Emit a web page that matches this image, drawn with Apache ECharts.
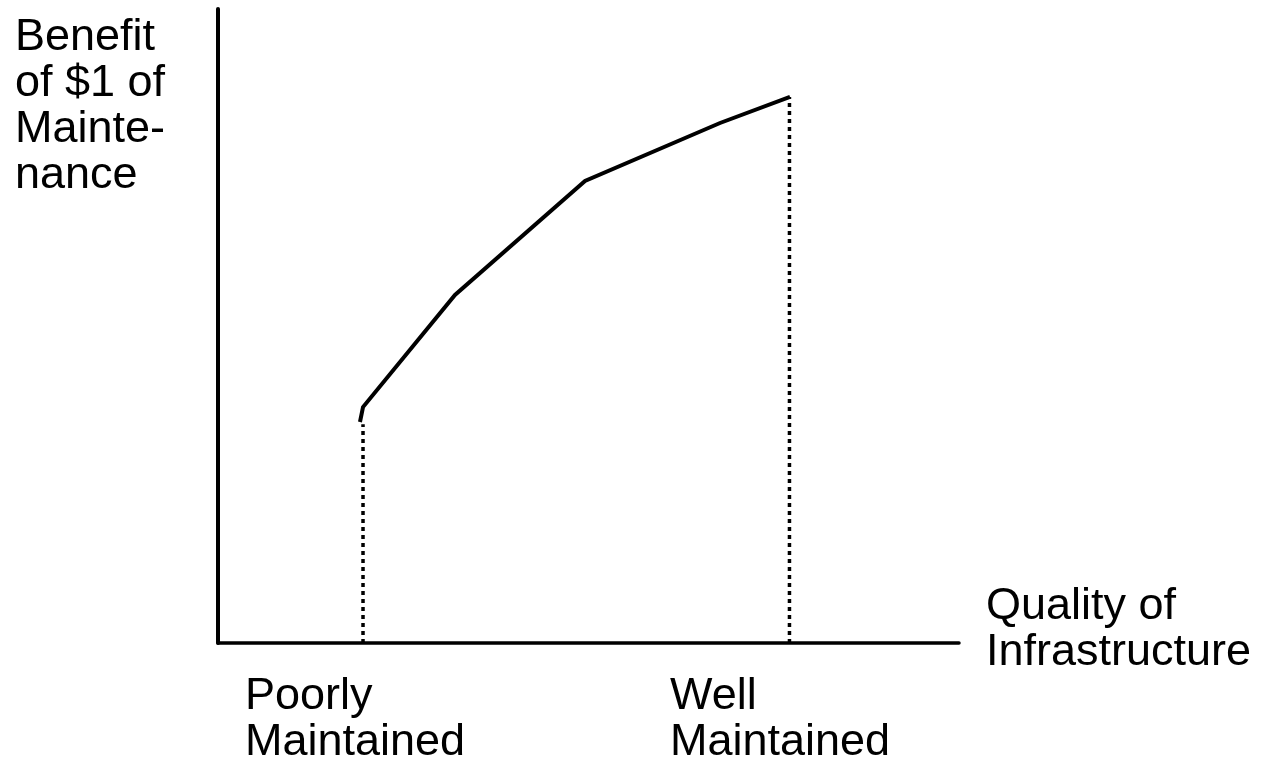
<!DOCTYPE html>
<html>
<head>
<meta charset="utf-8">
<title>Benefit of Maintenance</title>
<script src="https://cdn.jsdelivr.net/npm/echarts@6/dist/echarts.min.js"></script>
<style>
  html, body { margin: 0; padding: 0; background: #fff; }
  #chart { width: 1282px; height: 758px; }
</style>
</head>
<body>
<div id="chart"></div>
<script>
// quality of infrastructure (0 = poor .. 100 = best), benefit of $1 (0..100)
const curveX = [19.16, 19.57, 31.98, 49.53, 67.75, 77.19];
const curveY = [34.86, 37.22, 54.89, 72.87, 82.02, 86.12];

// dotted guide lines down to the x axis
const guideX = [19.57, 77.12];
const guideTop = [34.5, 86.12];

const yTitle = 'Benefit\nof $1 of\nMainte-\nnance';
const xTitle = 'Quality of\nInfrastructure';
const poorLabel = 'Poorly\nMaintained';
const wellLabel = 'Well\nMaintained';

const FONT = '"Liberation Sans", Arial, sans-serif';
const textStyle = (text, x, y) => ({
  type: 'text',
  left: x,
  top: y,
  style: {
    text: text,
    fill: '#000',
    font: '45px ' + FONT,
    lineHeight: 46
  }
});

const chart = echarts.init(document.getElementById('chart'));

const option = {
  animation: false,
  grid: { left: 218, right: 323, top: 9, bottom: 115 },
  xAxis: {
    type: 'value',
    min: 0,
    max: 100,
    axisLine: { show: true, lineStyle: { color: '#000', width: 3.5 } },
    axisTick: { show: false },
    axisLabel: { show: false },
    splitLine: { show: false }
  },
  yAxis: {
    type: 'value',
    min: 0,
    max: 100,
    axisLine: { show: true, lineStyle: { color: '#000', width: 4 } },
    axisTick: { show: false },
    axisLabel: { show: false },
    splitLine: { show: false }
  },
  series: [
    {
      type: 'line',
      data: curveX.map((x, i) => [x, curveY[i]]),
      symbol: 'none',
      lineStyle: { color: '#000', width: 4, join: 'miter' },
      z: 3
    },
    ...guideX.map((x, i) => ({
      type: 'line',
      data: [[x, 0], [x, guideTop[i]]],
      symbol: 'none',
      lineStyle: { color: '#000', width: 3.5, type: [4, 4] },
      z: 2
    }))
  ],
  graphic: [
    textStyle(yTitle, 15, 15),
    textStyle(xTitle, 986, 584),
    textStyle(poorLabel, 245, 674),
    textStyle(wellLabel, 670, 674)
  ]
};

chart.setOption(option);
</script>
</body>
</html>
